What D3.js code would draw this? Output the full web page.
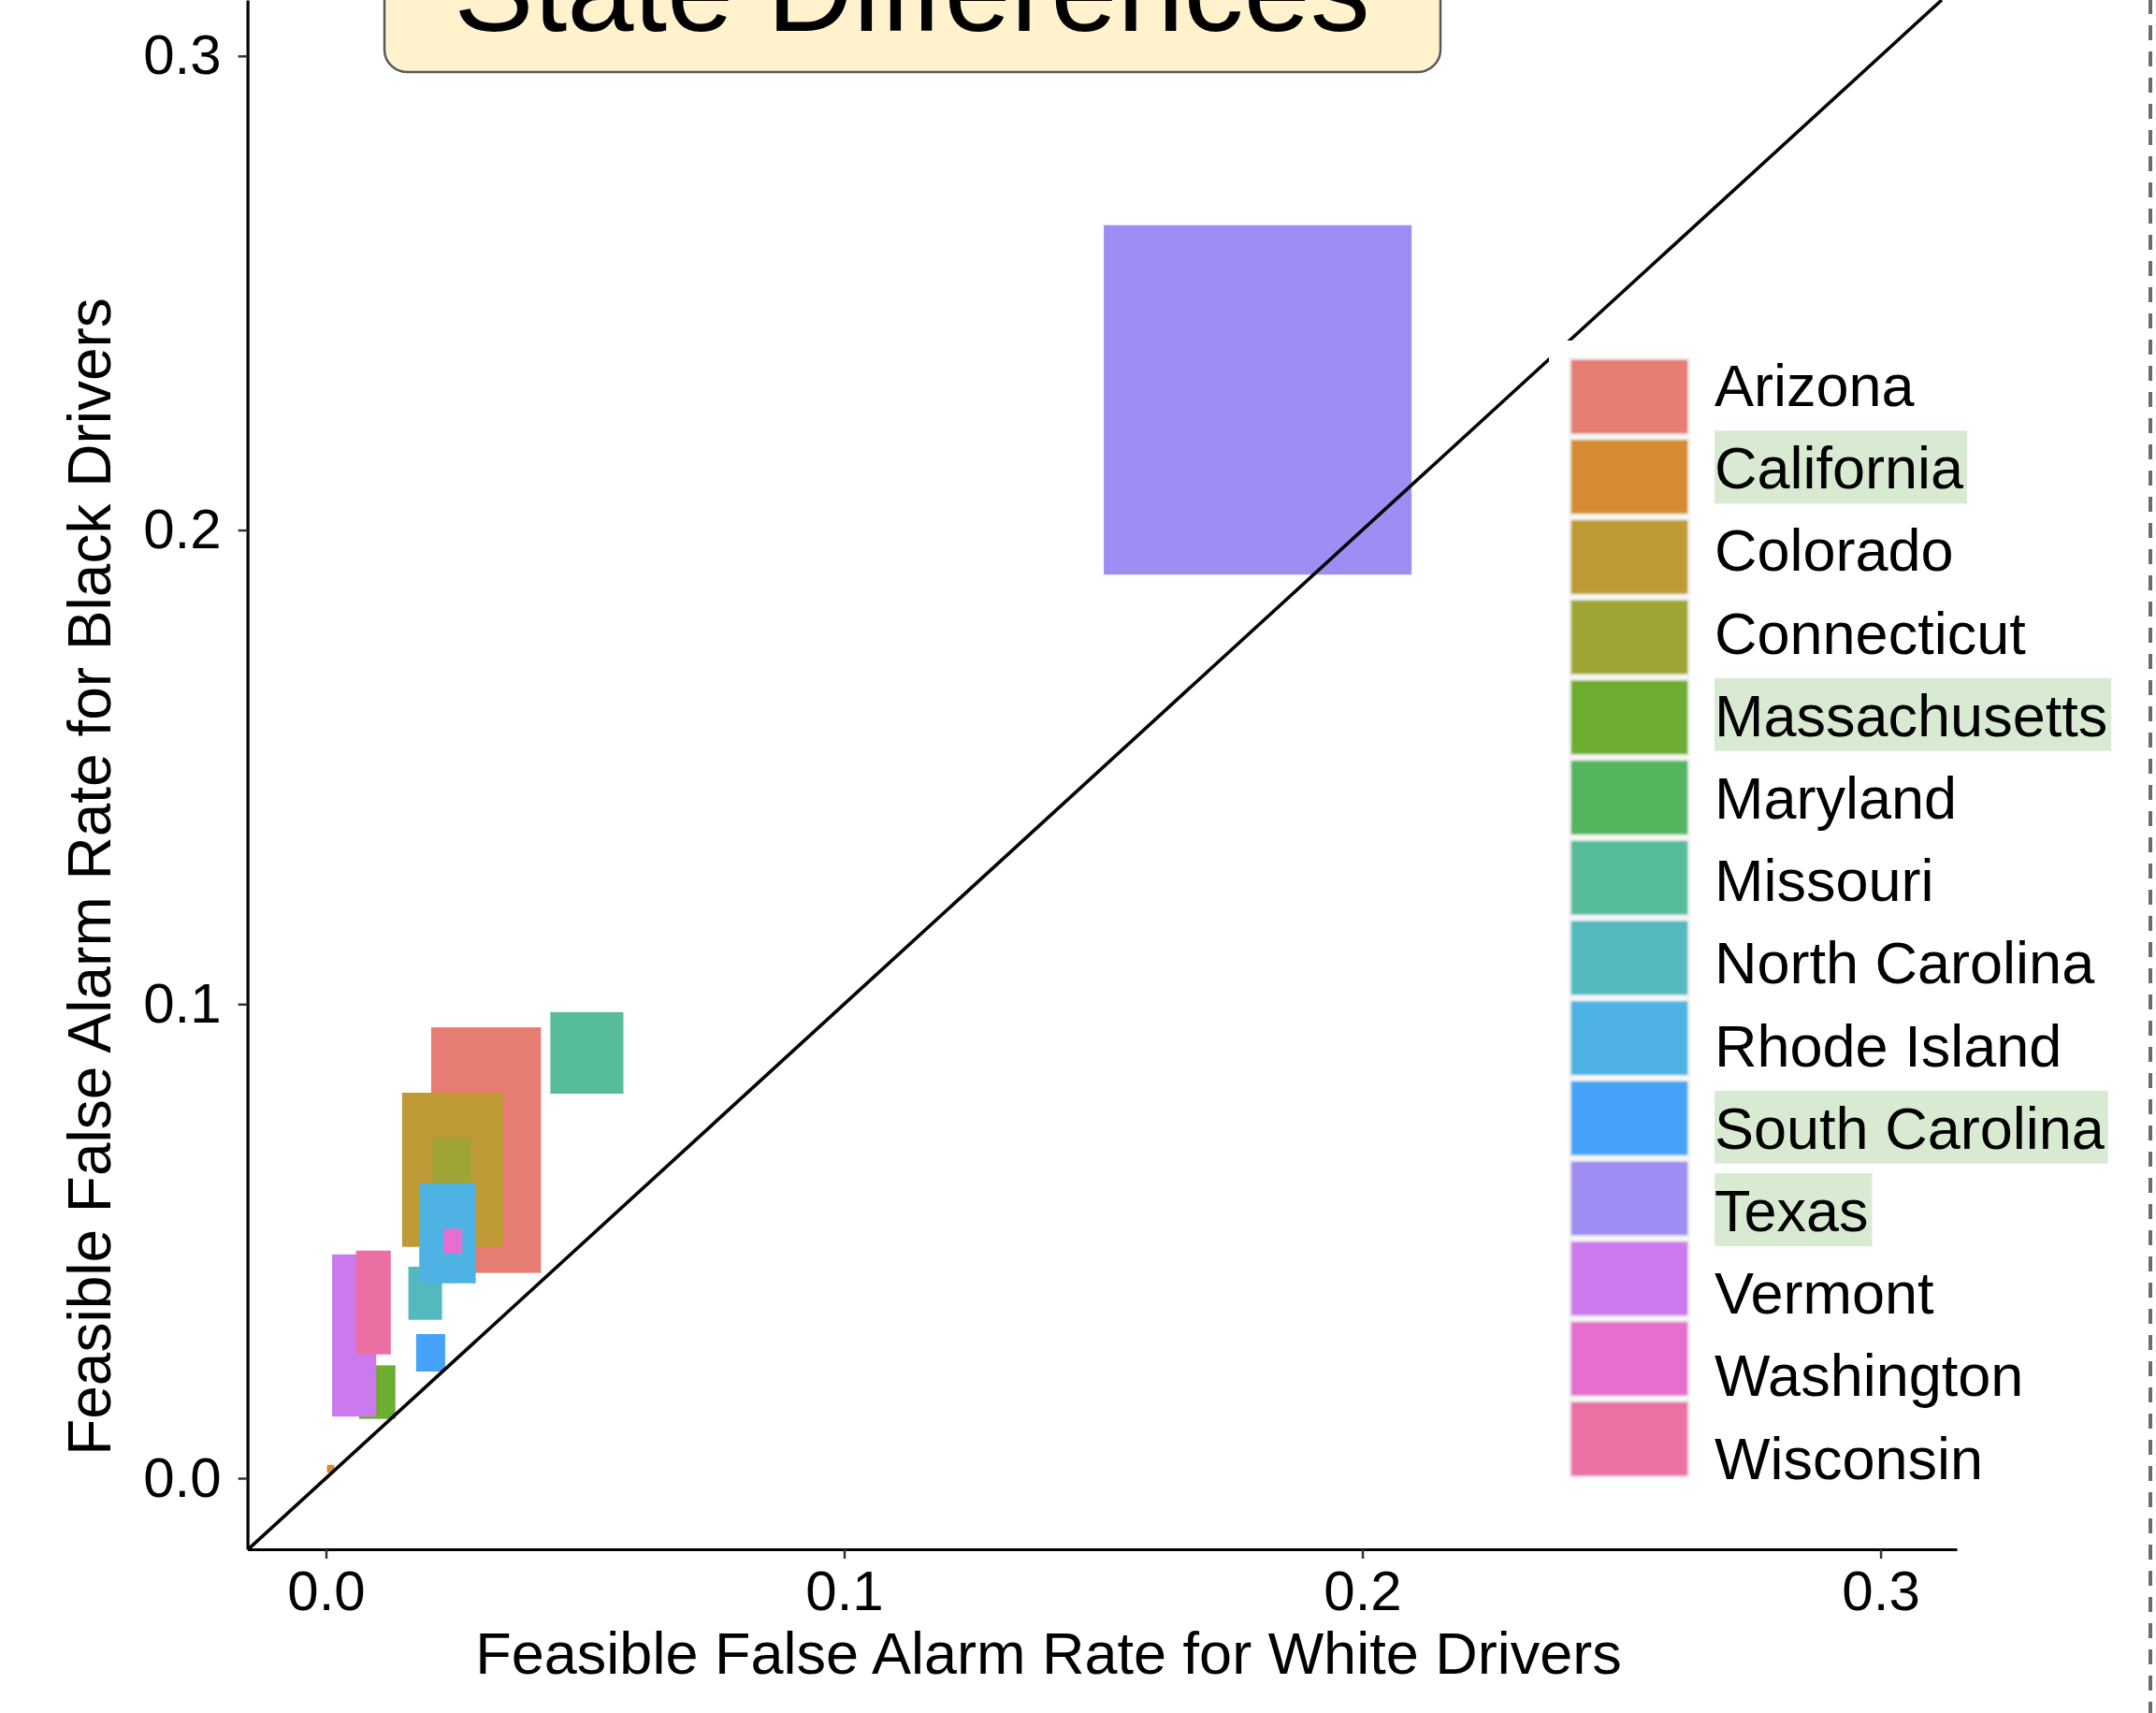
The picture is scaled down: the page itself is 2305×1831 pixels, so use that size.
<!DOCTYPE html>
<html>
<head>
<meta charset="utf-8">
<script src="https://cdn.jsdelivr.net/npm/d3@7"></script>
<style>
  html, body { margin: 0; padding: 0; background: #fff; }
  svg { display: block; }
  text { font-family: "Liberation Sans", Arial, Helvetica, sans-serif; fill: #000; }
</style>
</head>
<body>
<svg id="chart" width="2305" height="1831"></svg>
<script>
// Feasible false-alarm-rate regions per state (white vs. black drivers)
const states = ["Arizona", "California", "Colorado", "Connecticut", "Massachusetts",
  "Maryland", "Missouri", "North Carolina", "Rhode Island", "South Carolina",
  "Texas", "Vermont", "Washington", "Wisconsin"];
const whiteLow  = [0.0203, 0.0002, 0.0147, 0.0206, 0.0064, 0.0205, 0.0433, 0.0159, 0.0180, 0.0174, 0.1501, 0.0012, 0.0227, 0.0058];
const whiteHigh = [0.0415, 0.0016, 0.0342, 0.0281, 0.0134, 0.0260, 0.0574, 0.0224, 0.0289, 0.0230, 0.2095, 0.0097, 0.0263, 0.0125];
const blackLow  = [0.0433, 0.0012, 0.0488, 0.0520, 0.0125, 0.0450, 0.0811, 0.0334, 0.0411, 0.0225, 0.1906, 0.0130, 0.0474, 0.0261];
const blackHigh = [0.0951, 0.0028, 0.0813, 0.0717, 0.0238, 0.0560, 0.0983, 0.0446, 0.0622, 0.0304, 0.2643, 0.0472, 0.0526, 0.0480];
const stateColors = ["#E67C72", "#D68B30", "#BE9A34", "#9EA535", "#6DAE32", "#52B65F", "#57BC98",
  "#53B9BF", "#4FB2E4", "#45A2F8", "#9F8DF4", "#CC79EE", "#E76ECF", "#EB6FA3"];
const highlighted = ["California", "Massachusetts", "South Carolina", "Texas"];
const tickValues = [0, 0.1, 0.2, 0.3];
const xTitle = "Feasible False Alarm Rate for White Drivers";
const yTitle = "Feasible False Alarm Rate for Black Drivers";
const chartTitle = "State Differences";

const svg = d3.select("#chart");
const W = 2305, H = 1831;
svg.append("rect").attr("width", W).attr("height", H).attr("fill", "#fff");

const x = d3.scaleLinear().domain([-0.01514, 0.3147]).range([264.6, 2092]);
const y = d3.scaleLinear().domain([-0.015, 0.3118]).range([1656, 0]);
const color = d3.scaleOrdinal().domain(states).range(stateColors);

const data = states.map((s, i) => ({
  state: s, x0: whiteLow[i], x1: whiteHigh[i], y0: blackLow[i], y1: blackHigh[i]
}));

// dashed guide on the far right
svg.append("line")
  .attr("x1", 2299).attr("x2", 2299).attr("y1", 0).attr("y2", H)
  .attr("stroke", "#6b6b6b").attr("stroke-width", 4)
  .attr("stroke-dasharray", "16 12").attr("stroke-dashoffset", 1);

// clip to panel
svg.append("defs").append("clipPath").attr("id", "panel")
  .append("rect").attr("x", x.range()[0]).attr("y", 0)
  .attr("width", x.range()[1] - x.range()[0]).attr("height", y.range()[0]);

const panel = svg.append("g").attr("clip-path", "url(#panel)");

// state rectangles
panel.selectAll("rect.state").data(data).join("rect")
  .attr("class", "state")
  .attr("x", d => x(d.x0))
  .attr("y", d => y(d.y1))
  .attr("width", d => x(d.x1) - x(d.x0))
  .attr("height", d => y(d.y0) - y(d.y1))
  .attr("fill", d => color(d.state));

// identity line y = x
const lo = x.domain()[0], hi = y.domain()[1];
panel.append("line")
  .attr("x1", x(lo)).attr("y1", y(lo))
  .attr("x2", x(hi)).attr("y2", y(hi))
  .attr("stroke", "#000").attr("stroke-width", 3.6);

// axes
const fmt = d3.format(".1f");
const xAxis = svg.append("g").attr("transform", `translate(0,${y.range()[0]})`)
  .call(d3.axisBottom(x).tickValues(tickValues).tickFormat(fmt).tickSize(10).tickSizeOuter(0).tickPadding(12));
const yAxis = svg.append("g").attr("transform", `translate(${x.range()[0]},0)`)
  .call(d3.axisLeft(y).tickValues(tickValues).tickFormat(fmt).tickSize(10).tickSizeOuter(0).tickPadding(18));
[xAxis, yAxis].forEach(g => {
  g.select(".domain").attr("stroke", "#000").attr("stroke-width", 3.2);
  g.selectAll(".tick line").attr("stroke", "#333").attr("stroke-width", 2.5);
  g.selectAll(".tick text").attr("font-size", 60).attr("fill", "#000")
    .attr("font-family", "'Liberation Sans', Arial, sans-serif");
});

// axis titles
svg.append("text")
  .attr("x", 1121).attr("y", 1789)
  .attr("text-anchor", "middle").attr("font-size", 63)
  .text(xTitle);
svg.append("text")
  .attr("transform", "translate(118,937) rotate(-90)")
  .attr("text-anchor", "middle").attr("font-size", 64)
  .text(yTitle);

// title box
svg.append("rect")
  .attr("x", 411).attr("y", -40).attr("width", 1129).attr("height", 117)
  .attr("rx", 24).attr("ry", 24)
  .attr("fill", "#FFF2CC").attr("stroke", "#595959").attr("stroke-width", 2.5);
svg.append("text")
  .attr("x", 975).attr("y", 33)
  .attr("text-anchor", "middle").attr("font-size", 128)
  .text(chartTitle);

// legend
const defs = svg.select("defs");
defs.append("filter").attr("id", "soft")
  .attr("x", "-10%").attr("y", "-10%").attr("width", "120%").attr("height", "120%")
  .append("feGaussianBlur").attr("stdDeviation", 1.2);

const legend = svg.append("g");
legend.append("rect")
  .attr("x", 1656).attr("y", 364).attr("width", 630).attr("height", 1240)
  .attr("fill", "#fff");

const keyTop = 385, keyPitch = 85.7, keyH = 78;
const textTop = 434, textPitch = 88.2;

legend.selectAll("rect.halo").data(states).join("rect")
  .attr("class", "halo")
  .attr("x", 1677).attr("y", (d, i) => keyTop + i * keyPitch - 3)
  .attr("width", 130).attr("height", keyH + 6)
  .attr("fill", "#ededed").attr("filter", "url(#soft)");
legend.selectAll("rect.key").data(states).join("rect")
  .attr("class", "key")
  .attr("x", 1680).attr("y", (d, i) => keyTop + i * keyPitch)
  .attr("width", 124).attr("height", keyH)
  .attr("fill", d => color(d)).attr("filter", "url(#soft)");

const labels = legend.selectAll("g.lab").data(states).join("g")
  .attr("class", "lab")
  .attr("transform", (d, i) => `translate(1833,${textTop + i * textPitch})`);
labels.append("rect").attr("class", "hl");
labels.append("text")
  .attr("font-size", 63)
  .text(d => d);
labels.each(function(d) {
  const g = d3.select(this);
  const w = g.select("text").node().getComputedTextLength();
  g.select("rect.hl")
    .attr("x", 0).attr("y", -62).attr("width", w + 4).attr("height", 78)
    .attr("fill", highlighted.includes(d) ? "#D9EAD3" : "none");
});
</script>
</body>
</html>
